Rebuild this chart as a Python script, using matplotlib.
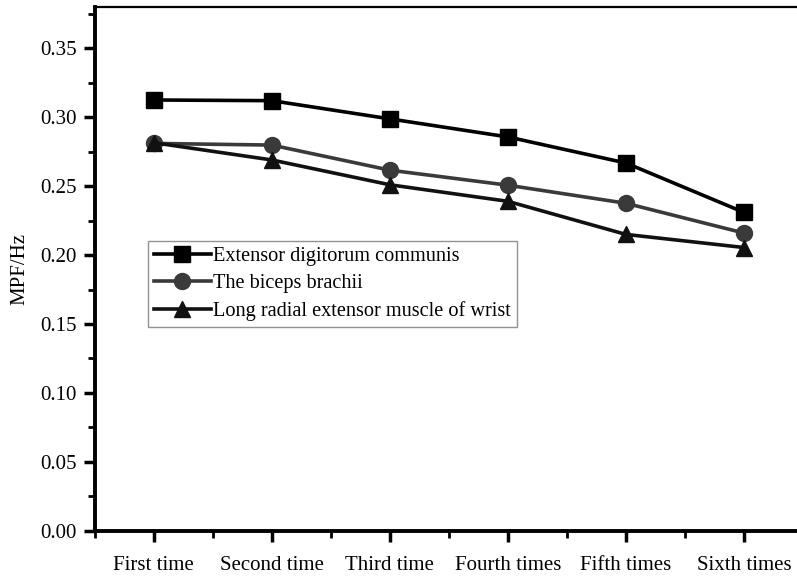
import matplotlib
matplotlib.use("Agg")
import matplotlib.pyplot as plt
from matplotlib.ticker import MultipleLocator

plt.rcParams['font.family'] = ['Liberation Serif', 'DejaVu Serif']

categories = ['First time', 'Second time', 'Third time', 'Fourth times', 'Fifth times', 'Sixth times']
extensor_digitorum = [0.3125, 0.3120, 0.2988, 0.2857, 0.2668, 0.2310]
biceps_brachii = [0.2810, 0.2798, 0.2616, 0.2507, 0.2376, 0.2160]
radial_extensor = [0.2815, 0.2690, 0.2510, 0.2390, 0.2150, 0.2055]

fig = plt.figure(figsize=(7.97, 5.77), dpi=100)
ax = fig.add_axes([0.119, 0.080, 0.881, 0.908])

x = list(range(1, len(categories) + 1))
ax.plot(x, extensor_digitorum, color='black', marker='s', markersize=11, lw=2.6,
        label='Extensor digitorum communis')
ax.plot(x, biceps_brachii, color='#3a3a3a', marker='o', markersize=11.5, lw=2.6,
        label='The biceps brachii')
ax.plot(x, radial_extensor, color='#111111', marker='^', markersize=12, lw=2.6,
        label='Long radial extensor muscle of wrist')

ax.set_xlim(0.5, 6.45)
ax.set_ylim(0, 0.38)
ax.set_xticks(x)
ax.set_xticklabels(categories)
ax.xaxis.set_minor_locator(MultipleLocator(0.5))
ax.yaxis.set_major_locator(MultipleLocator(0.05))
ax.yaxis.set_minor_locator(MultipleLocator(0.025))
ax.yaxis.set_major_formatter(plt.FormatStrFormatter('%.2f'))

ax.tick_params(which='major', direction='out', length=8, width=2.5, labelsize=15, pad=5)
ax.tick_params(which='minor', direction='out', length=5, width=2)
ax.tick_params(axis='x', which='major', pad=10)
ax.spines['left'].set_linewidth(2.8)
ax.spines['bottom'].set_linewidth(2.8)
ax.spines['top'].set_linewidth(1.6)
ax.spines['right'].set_visible(False)

ax.set_ylabel('MPF/Hz', fontsize=15, labelpad=8)

leg = ax.legend(loc='upper left', bbox_to_anchor=(0.0755, 0.553), borderaxespad=0,
                fontsize=14.6, fancybox=False, handlelength=2.8, handletextpad=0.1,
                labelspacing=0.38, borderpad=0.3, frameon=True)
leg.get_frame().set_edgecolor('#777777')
leg.get_frame().set_linewidth(1.0)

fig.savefig('out.png', dpi=100)
